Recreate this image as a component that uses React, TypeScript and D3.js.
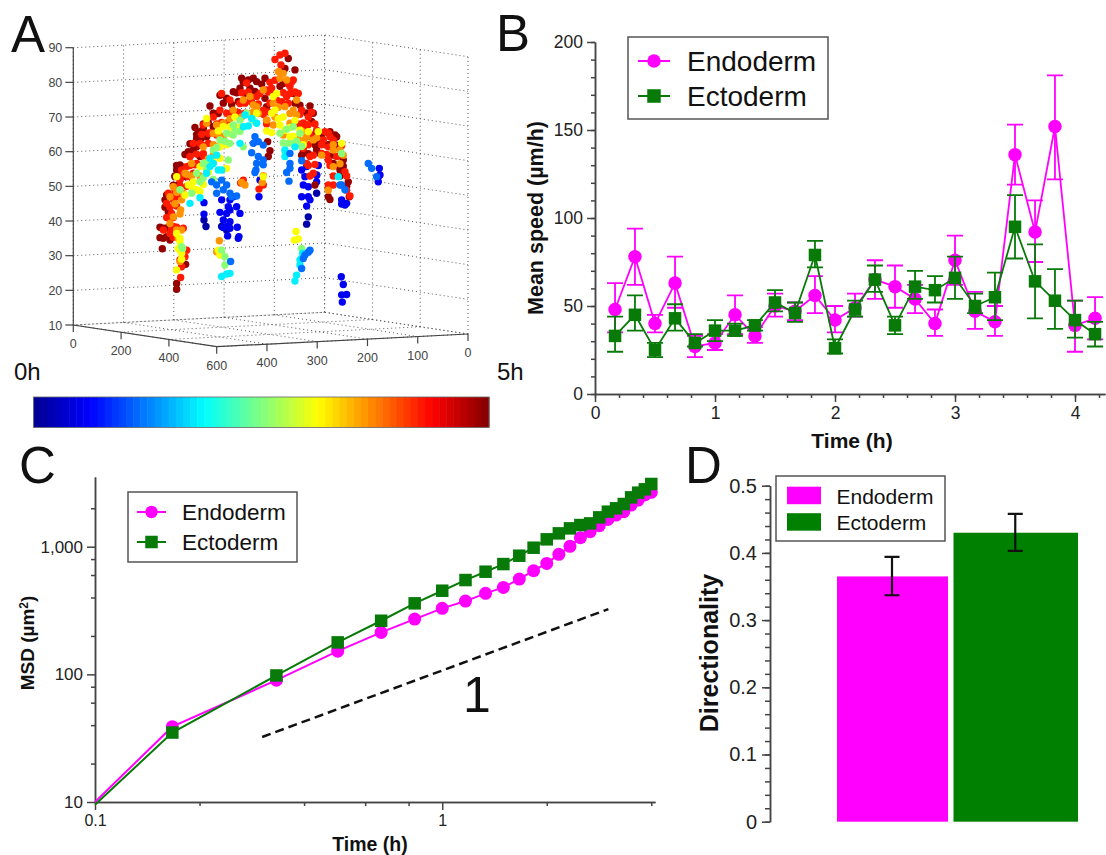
import React, { useRef, useEffect } from 'react';
import * as d3 from 'd3';

const MAGENTA = '#ff00ff';
const GREEN = '#087a08';
const SANS = '"Liberation Sans", Arial, sans-serif';

// panel B, mean speed every 10 min
const speedTimes = [0.167, 0.333, 0.5, 0.667, 0.833, 1, 1.167, 1.333, 1.5, 1.667, 1.833, 2, 2.167, 2.333, 2.5, 2.667, 2.833, 3, 3.167, 3.333, 3.5, 3.667, 3.833, 4, 4.167];
const endoSpeed = [48, 78, 40, 63, 27, 29, 45, 33, 50, 47, 56, 42, 49, 65, 61, 54, 40, 76, 47, 41, 136, 92, 152, 39, 43];
const endoLow = [35, 62, 35, 49, 21, 25, 34, 29, 44, 42, 46, 35, 44, 54, 49, 46, 33, 62, 37, 33, 119, 75, 122, 24, 31];
const endoHigh = [63, 94, 45, 78, 33, 34, 56, 38, 57, 52, 67, 50, 57, 76, 73, 62, 48, 90, 58, 50, 153, 110, 181, 53, 55];
const ectoSpeed = [33, 45, 25, 43, 29, 36, 36, 39, 52, 46, 79, 26, 48, 65, 39, 61, 59, 66, 50, 55, 95, 64, 53, 42, 34];
const ectoLow = [24, 36, 21, 36, 27, 30, 33, 36, 47, 41, 72, 23, 44, 58, 34, 54, 52, 54, 46, 42, 77, 43, 37, 32, 27];
const ectoHigh = [44, 56, 29, 51, 34, 42, 40, 42, 59, 52, 87, 31, 53, 73, 44, 70, 67, 78, 57, 69, 113, 85, 71, 53, 41];

// panel C, MSD on log axes (first entry is where the line enters the plot)
const msdTimes = [0.1, 0.167, 0.333, 0.5, 0.667, 0.833, 1, 1.167, 1.333, 1.5, 1.667, 1.833, 2, 2.167, 2.333, 2.5, 2.667, 2.833, 3, 3.167, 3.333, 3.5, 3.667, 3.833, 4];
const endoMsd = [10, 38.9, 90, 152, 213, 271, 329, 375, 431, 480, 558, 649, 740, 871, 1006, 1176, 1311, 1460, 1637, 1770, 1880, 2120, 2320, 2540, 2665];
const ectoMsd = [9.5, 35, 98, 178, 263, 360, 452, 548, 637, 731, 850, 982, 1142, 1272, 1392, 1478, 1523, 1697, 1880, 1998, 2160, 2435, 2650, 2815, 3100];
const slopeGuide = [[0.303, 32.3], [3.01, 324.6]];

// panel D
const dirNames = ['Endoderm', 'Ectoderm'];
const dirValues = [0.365, 0.43];
const dirLow = [0.337, 0.403];
const dirHigh = [0.394, 0.458];

// panel A, [horizontal position in the view, height z], grouped by time colour
const cellsNavy = [[612, 40.3], [618, 38.4], [925, 41.2], [920, 39.1], [950, 48], [680, 37.4], [665, 38.4], [950, 53.2]];
const cellsBlue = [[665, 46.1], [685, 44.1], [710, 44.1], [720, 42.2], [660, 42.5], [680, 42.2], [690, 43.2], [670, 40.3], [690, 39.8], [680, 38.4], [670, 38.1], [690, 37.9], [712, 38.2], [683, 35.7], [717, 35.5], [715, 35], [612, 45.3], [612, 42], [905, 54.7], [920, 55.7], [915, 52.8], [910, 50.4], [925, 49.9], [905, 47], [925, 47], [930, 46.1], [920, 44.3], [955, 56], [950, 53.3], [950, 51.3], [1025, 46.1], [1040, 45.1], [1025, 44.9], [1035, 44.6], [777, 47], [780, 51.8], [1024, 23.9], [1030, 21.7], [1025, 18.7], [1040, 18.8], [1027, 16.6], [1138, 55.2], [1135, 52.8], [1140, 53.3], [1135, 51.3], [690, 46.1], [700, 47]];
const cellsSky = [[765, 64.3], [760, 62.4], [775, 62.9], [790, 61.9], [755, 59.7], [775, 58.6], [770, 56.6], [768, 54.7], [790, 57.6], [790, 56.2], [765, 54], [870, 56.6], [870, 55.2], [860, 54], [867, 51.5], [870, 59.5], [905, 57.4], [635, 51.3], [650, 50.4], [665, 51.8], [680, 50.4], [650, 48], [670, 49], [690, 48], [695, 47], [710, 47.2], [1025, 50.4], [1035, 49], [1115, 55.2], [1130, 52.8], [1105, 56.6], [692, 28.3], [930, 31.6], [925, 31], [910, 29.2], [915, 30.2], [905, 26.3], [1020, 50.4]];
const cellsCyan = [[735, 70.6], [755, 69.6], [730, 67.2], [745, 67.4], [770, 68.2], [720, 62.4], [650, 59], [630, 58.1], [640, 56.6], [620, 53.8], [655, 54.7], [665, 54.7], [630, 55.7], [570, 45.1], [600, 46.7], [855, 60.5], [885, 61.4], [855, 58.6], [665, 24], [680, 24.7], [690, 24.9], [885, 22.7], [890, 24.4], [905, 29.2], [900, 27.3], [1015, 52.8], [900, 28.8], [908, 30.7]];
const cellsLime = [[740, 71.1], [760, 69.1], [720, 69.1], [700, 67.7], [680, 65.3], [700, 64.8], [720, 65.8], [660, 63.4], [690, 62.4], [640, 60.5], [610, 56.6], [590, 53.8], [600, 51.3], [620, 54.7], [540, 49], [545, 32.6], [548, 32.1], [665, 31.6], [675, 29.7], [675, 27.3], [905, 32.1], [840, 65.3], [880, 67.2], [900, 65.3], [880, 62.4], [855, 60], [865, 62.4], [730, 61.4], [685, 57.6], [1025, 59.5], [705, 66], [675, 63], [650, 61.2], [625, 57], [610, 52.5], [640, 52], [575, 48], [860, 66.5], [890, 63], [905, 61.5], [850, 62.5]];
const cellsYellow = [[830, 76.8], [820, 75.9], [815, 71.1], [850, 70], [840, 67.7], [870, 64.3], [900, 66.2], [925, 65.8], [955, 65.8], [1025, 62.4], [690, 67.2], [705, 70], [670, 67.2], [620, 69.6], [660, 61.4], [660, 58.1], [680, 55.2], [600, 55.7], [580, 51.3], [565, 50.4], [530, 52.8], [530, 36.4], [540, 35], [545, 30.7], [540, 31.6], [530, 25.9], [660, 30.2], [655, 31.6], [888, 37], [883, 34.5], [895, 34.8], [770, 71.1], [825, 72], [790, 52.8], [600, 48.5], [800, 66], [815, 65.5], [835, 69.5], [855, 66.2], [870, 67], [885, 69], [880, 64.5], [910, 62], [680, 62], [695, 65], [715, 67], [655, 66], [640, 57], [625, 54], [610, 50.5], [590, 49], [575, 50], [555, 47.5], [540, 34], [535, 32], [545, 29]];
const cellsOrange = [[835, 83.1], [850, 82.6], [840, 81.2], [860, 80.7], [790, 77.8], [770, 73], [760, 73.5], [730, 74.9], [750, 75.9], [700, 72], [670, 68.2], [650, 67.7], [620, 68.2], [640, 65.3], [610, 61.4], [655, 61.4], [620, 56.6], [575, 56.6], [555, 53.8], [520, 49.9], [510, 47], [545, 46.1], [520, 41.2], [542, 43.2], [510, 39.3], [530, 37.4], [545, 37.4], [658, 34.3], [650, 31.1], [540, 28.3], [820, 67.7], [800, 69.1], [850, 64.8], [880, 72], [890, 74.9], [870, 68.2], [920, 64.3], [940, 63.4], [965, 59], [1000, 60.5], [1020, 60.5], [985, 48.9], [735, 50.4], [725, 51.1], [787, 51.1], [790, 53.1], [1000, 55.7], [760, 71.5], [775, 71], [745, 71], [725, 70], [690, 69.5], [655, 65], [670, 64.5], [640, 62], [640, 59], [625, 58], [600, 53], [575, 53], [560, 53.5], [550, 48], [530, 48.3], [525, 45], [540, 42], [535, 35], [820, 74], [835, 72.8], [855, 73], [825, 70], [870, 71], [890, 70.5], [905, 66], [895, 63.5], [915, 63.5], [950, 64], [1020, 56.5], [1030, 59], [1000, 62]];
const cellsRed = [[825, 86.6], [840, 87.9], [855, 88.4], [843, 85], [880, 80.7], [895, 76.8], [815, 78.3], [770, 75.9], [800, 77.8], [665, 76.8], [750, 74.9], [720, 73.9], [690, 74.9], [660, 72], [680, 71.1], [700, 70.6], [640, 70], [610, 67.7], [625, 65.3], [600, 62.4], [580, 62.4], [570, 58.6], [590, 56.6], [610, 59.5], [545, 54.7], [560, 55.7], [580, 53.8], [540, 51.8], [525, 49], [500, 45.1], [515, 42.2], [505, 48], [520, 46.1], [490, 37.4], [520, 38.4], [510, 36.4], [550, 37.9], [542, 23.7], [560, 31.6], [555, 29.7], [545, 26.8], [540, 28.8], [800, 69.1], [790, 72], [830, 74.9], [860, 75.9], [870, 78.8], [905, 72], [925, 70], [915, 67.2], [950, 66.2], [970, 63.4], [985, 61.4], [1000, 63.4], [965, 59.5], [930, 58.6], [910, 61], [920, 56.6], [985, 57.6], [1010, 58.6], [1035, 54.2], [1040, 48.9], [985, 49.4], [1000, 50.4], [940, 53.8], [730, 51.8], [722, 51], [777, 49.2], [790, 50.4], [990, 64.3], [975, 65.8], [740, 79.8], [810, 80], [825, 80.6], [865, 79.6], [875, 80.1], [725, 77], [745, 77.2], [780, 76.8], [805, 77.2], [820, 76.5], [850, 77], [870, 76.8], [885, 77.2], [735, 74], [755, 74.3], [775, 73.8], [810, 74], [845, 74.4], [865, 74], [690, 71], [715, 71.3], [735, 71.1], [790, 70.8], [805, 71.5], [900, 70.8], [935, 71.4], [650, 68], [665, 68.4], [680, 68.3], [800, 68], [895, 68], [910, 68.3], [925, 67.8], [945, 68], [605, 65], [630, 65.4], [650, 64.8], [930, 65], [985, 65.4], [605, 62], [625, 62.4], [925, 62], [965, 62], [1025, 61.8], [590, 59.3], [610, 58.8], [940, 59], [980, 59.2], [570, 56], [585, 56.2], [925, 56], [945, 56.3], [990, 56], [545, 53.2], [565, 52.8], [930, 53], [1000, 53], [1040, 53], [540, 50.2], [560, 50], [985, 50.4], [515, 47.3], [535, 47], [1050, 47.2], [510, 44], [530, 44.3], [500, 41], [520, 41], [515, 38], [530, 38.2], [520, 35.3]];
const cellsDark = [[865, 86.9], [885, 83.6], [855, 84], [725, 81.2], [760, 81.2], [745, 80.7], [795, 81.2], [720, 78.3], [750, 78.3], [735, 76.8], [700, 77.3], [680, 75.4], [660, 76.3], [630, 73.2], [640, 71.1], [600, 65.8], [585, 67], [610, 66.7], [640, 67.2], [590, 63.9], [620, 64.3], [580, 60.5], [590, 61.4], [565, 60], [600, 58.6], [540, 56.2], [530, 54.7], [555, 52.8], [525, 52.8], [535, 50.4], [495, 46.1], [505, 42.7], [490, 37.9], [490, 35], [510, 34.5], [487, 32], [557, 27.5], [530, 22], [530, 20.3], [930, 73.2], [940, 71.1], [880, 76.8], [840, 78.9], [850, 79.7], [795, 75.4], [800, 73], [990, 65.8], [1010, 64.3], [960, 62.4], [950, 60.5], [1000, 56.6], [1020, 54.7], [905, 59], [945, 50.4], [990, 46.2], [1048, 47], [1045, 51.3], [805, 58.6], [810, 60.3], [803, 62.9], [935, 68.7], [1030, 57.6], [730, 80], [770, 80.2], [785, 79.5], [710, 77], [765, 77.4], [670, 74], [695, 73.6], [715, 74.5], [885, 74], [900, 73.4], [920, 71.2], [655, 71], [625, 68.4], [610, 68], [590, 65], [605, 64], [570, 62.3], [585, 61.7], [555, 59.2], [570, 58.6], [530, 56], [550, 55.5], [525, 53], [520, 50.3], [500, 47.5], [495, 44], [480, 38.2], [500, 38], [480, 35.2], [500, 35.5], [945, 65], [965, 64.7], [985, 62], [1005, 64.8], [1010, 61.8], [1000, 59], [1020, 58.8], [1010, 56], [1030, 55.8], [1020, 53], [1040, 50], [985, 47], [945, 62], [960, 59.5], [925, 59.4], [910, 60]];
// one hour value per colour group, drawn in this order
const cellGroups = [
  { hour: 0.15, cells: cellsNavy },
  { hour: 0.55, cells: cellsBlue },
  { hour: 4.9, cells: cellsDark },
  { hour: 4.25, cells: cellsRed },
  { hour: 3.65, cells: cellsOrange },
  { hour: 3.1, cells: cellsYellow },
  { hour: 2.55, cells: cellsLime },
  { hour: 1.8, cells: cellsCyan },
  { hour: 1.15, cells: cellsSky },
];

const zTicks = [10, 20, 30, 40, 50, 60, 70, 80, 90];
const aTicks = [0, 200, 400, 600];
const bTicks = [0, 100, 200, 300, 400, 500];
const bLabels = ['0', '100', '200', '300', '400', '600'];

const jet = d3.scaleLinear<string>()
  .domain([0, 0.625, 1.875, 3.125, 4.375, 5])
  .range(['#00008f', '#0000ff', '#00ffff', '#ffff00', '#ff0000', '#800000']);

function styleAxis(g, size) {
  g.attr('font-family', SANS).attr('font-size', size);
  g.selectAll('path').attr('stroke', '#444').attr('stroke-width', 1.5);
  g.selectAll('line').attr('stroke', '#444').attr('stroke-width', 1.5);
  g.selectAll('text').attr('fill', '#222');
}

function vertical(svg, text, x, y, size) {
  return svg.append('text').attr('transform', `translate(${x},${y}) rotate(-90)`)
    .attr('text-anchor', 'middle').attr('font-family', SANS).attr('font-weight', 700)
    .attr('font-size', size).attr('fill', '#111').text(text);
}

function label(svg, text, x, y, size, extra = {}) {
  const t = svg.append('text').attr('x', x).attr('y', y).attr('font-family', SANS)
    .attr('font-size', size).attr('fill', '#111').text(text);
  Object.entries(extra).forEach(([k, v]) => t.attr(k, v));
  return t;
}

function lineLegend(svg, box, rows, size) {
  svg.append('rect').attr('x', box.x).attr('y', box.y).attr('width', box.w).attr('height', box.h)
    .attr('fill', '#fff').attr('stroke', '#555').attr('stroke-width', 1.5);
  rows.forEach((r, i) => {
    svg.append('line').attr('x1', box.lx).attr('x2', box.lx + box.ll).attr('y1', r.y).attr('y2', r.y)
      .attr('stroke', i ? GREEN : MAGENTA).attr('stroke-width', 2);
    marker(svg, i, box.lx + box.ll / 2, r.y, box.m);
    label(svg, r.name, box.tx, r.y + size * 0.36, size);
  });
}

function marker(svg, kind, x, y, s) {
  if (kind === 0) svg.append('circle').attr('cx', x).attr('cy', y).attr('r', s / 2).attr('fill', MAGENTA);
  else svg.append('rect').attr('x', x - s / 2).attr('y', y - s / 2).attr('width', s).attr('height', s).attr('fill', GREEN);
}

function drawCloud(svg) {
  const aS = d3.scaleLinear().domain([0, 600]).range([0, 1]);
  const bS = d3.scaleLinear().domain([500, 0]).range([0, 1]);
  const zS = d3.scaleLinear().domain([10, 90]).range([325, 47.7]);
  const L = [73.3, 325], F = [216.7, 346.7], R = [468, 334];
  const project = (a, b, z) => [
    L[0] + aS(a) * (F[0] - L[0]) + bS(b) * (R[0] - F[0]),
    L[1] + aS(a) * (F[1] - L[1]) + bS(b) * (R[1] - F[1]) + zS(z) - zS(10),
  ];
  const path = d3.line();
  const dotted = (pts) => svg.append('path').attr('d', path(pts)).attr('fill', 'none')
    .attr('stroke', '#555').attr('stroke-width', 1).attr('stroke-dasharray', '1 3');
  const solid = (pts) => svg.append('path').attr('d', path(pts)).attr('fill', 'none')
    .attr('stroke', '#444').attr('stroke-width', 1.2);

  // walls and floor grid
  zTicks.forEach(z => {
    dotted([project(0, 500, z), project(0, 0, z), project(600, 0, z)]);
  });
  bTicks.forEach(b => {
    dotted([project(0, b, 10), project(0, b, 90)]);
    dotted([project(0, b, 10), project(600, b, 10)]);
  });
  aTicks.forEach(a => {
    dotted([project(a, 0, 10), project(a, 0, 90)]);
    dotted([project(a, 0, 10), project(a, 500, 10)]);
  });

  // solid box edges and ticks
  solid([project(0, 500, 90), project(0, 500, 10), project(600, 500, 10), project(600, 0, 10)]);
  zTicks.forEach(z => {
    const [x, y] = project(0, 500, z);
    solid([[x - 8, y], [x, y]]);
    label(svg, String(z), x - 11, y + 4.5, 12.5, { 'text-anchor': 'end', fill: '#444' });
  });
  aTicks.slice(0, 3).forEach(a => {
    const [x, y] = project(a, 500, 10);
    solid([[x, y], [x, y + 7]]);
    label(svg, String(a), x, y + 23, 12.5, { 'text-anchor': 'middle', fill: '#444' });
  });
  bTicks.forEach((b, i) => {
    const [x, y] = project(600, b, 10);
    solid([[x, y], [x, y + 7]]);
    label(svg, bLabels[i], x, y + 23, 12.5, { 'text-anchor': 'middle', fill: '#444' });
  });

  const hS = d3.scaleLinear().domain([220, 1405]).range([73.3, 468.3]);
  cellGroups.forEach(group => {
    svg.append('g').selectAll('circle').data(group.cells).enter().append('circle')
      .attr('cx', d => hS(d[0])).attr('cy', d => zS(d[1])).attr('r', 3.7)
      .attr('fill', jet(group.hour));
  });

  // time colour bar
  const barX = d3.scaleBand().domain(d3.range(64).map(String)).range([33.5, 489]);
  svg.append('g').selectAll('rect').data(d3.range(64)).enter().append('rect')
    .attr('x', d => barX(String(d))).attr('y', 397).attr('width', barX.bandwidth() + 0.5).attr('height', 30.5)
    .attr('fill', d => jet((d + 0.5) / 64 * 5));
  svg.append('rect').attr('x', 33.5).attr('y', 397).attr('width', 455.5).attr('height', 30.5)
    .attr('fill', 'none').attr('stroke', '#666').attr('stroke-width', 0.8);
  label(svg, '0h', 14, 380, 24);
  label(svg, '5h', 497, 380, 24);
}

function drawSpeed(svg) {
  const x = d3.scaleLinear().domain([0, 4.25]).range([595, 1105]);
  const y = d3.scaleLinear().domain([0, 200]).range([394, 42]);

  const minorX = d3.range(0, 4.21, 0.2);
  const minorY = d3.range(0, 201, 10);
  styleAxis(svg.append('g').attr('transform', 'translate(0,394)').call(d3.axisBottom(x).tickValues(minorX).tickFormat(() => '').tickSize(4).tickSizeOuter(0)), 17);
  styleAxis(svg.append('g').attr('transform', 'translate(595,0)').call(d3.axisLeft(y).tickValues(minorY).tickFormat(() => '').tickSize(4).tickSizeOuter(0)), 17);
  styleAxis(svg.append('g').attr('transform', 'translate(0,394)').call(d3.axisBottom(x).tickValues([0, 1, 2, 3, 4]).tickFormat(d3.format('d')).tickSize(8).tickSizeOuter(0).tickPadding(5)), 17.5);
  styleAxis(svg.append('g').attr('transform', 'translate(595,0)').call(d3.axisLeft(y).tickValues([0, 50, 100, 150, 200]).tickFormat(d3.format('d')).tickSize(8).tickSizeOuter(0).tickPadding(4)), 17.5);

  const series = [
    { kind: 0, color: MAGENTA, v: endoSpeed, lo: endoLow, hi: endoHigh },
    { kind: 1, color: GREEN, v: ectoSpeed, lo: ectoLow, hi: ectoHigh },
  ];
  series.forEach(s => {
    const g = svg.append('g');
    speedTimes.forEach((t, i) => {
      const px = x(t);
      g.append('path').attr('d', `M${px},${y(s.lo[i])}V${y(s.hi[i])}M${px - 8},${y(s.lo[i])}H${px + 8}M${px - 8},${y(s.hi[i])}H${px + 8}`)
        .attr('fill', 'none').attr('stroke', s.color).attr('stroke-width', 1.8);
    });
    g.append('path').attr('d', d3.line().x((_, i) => x(speedTimes[i])).y(d => y(d))(s.v))
      .attr('fill', 'none').attr('stroke', s.color).attr('stroke-width', 1.8);
    speedTimes.forEach((t, i) => marker(g, s.kind, x(t), y(s.v[i]), s.kind ? 12.5 : 13.5));
  });

  label(svg, 'Time (h)', 852, 448, 21, { 'text-anchor': 'middle', 'font-weight': 700 });
  vertical(svg, 'Mean speed (µm/h)', 543, 218, 21.5);
  lineLegend(svg, { x: 628, y: 37, w: 200, h: 82, lx: 638, ll: 32, m: 13.5, tx: 687 },
    [{ name: 'Endoderm', y: 61 }, { name: 'Ectoderm', y: 96 }], 28);
}

function drawMsd(svg) {
  const x = d3.scaleLog().domain([0.1, 4.1]).range([95, 655]);
  const y = d3.scaleLog().domain([10, 3516]).range([802, 477]);

  const minorX = [0.2, 0.4, 0.6, 0.8, 2, 4];
  const minorY = [20, 40, 60, 80, 200, 400, 600, 800, 2000];
  styleAxis(svg.append('g').attr('transform', 'translate(0,802)').call(d3.axisBottom(x).tickValues(minorX).tickFormat(() => '').tickSize(4).tickSizeOuter(0)), 16);
  styleAxis(svg.append('g').attr('transform', 'translate(95,0)').call(d3.axisLeft(y).tickValues(minorY).tickFormat(() => '').tickSize(4).tickSizeOuter(0)), 16);
  styleAxis(svg.append('g').attr('transform', 'translate(0,802)').call(d3.axisBottom(x).tickValues([0.1, 1]).tickFormat(d3.format('')).tickSize(8).tickSizeOuter(0).tickPadding(5)), 16);
  styleAxis(svg.append('g').attr('transform', 'translate(95,0)').call(d3.axisLeft(y).tickValues([10, 100, 1000]).tickFormat(d3.format(',')).tickSize(8).tickSizeOuter(0).tickPadding(4)), 17);

  const lineGen = d3.line().x((_, i) => x(msdTimes[i])).y(d => y(d));
  [{ kind: 0, color: MAGENTA, v: endoMsd }, { kind: 1, color: GREEN, v: ectoMsd }].forEach(s => {
    const g = svg.append('g');
    g.append('path').attr('d', lineGen(s.v)).attr('fill', 'none').attr('stroke', s.color).attr('stroke-width', 2);
    msdTimes.forEach((t, i) => { if (i > 0) marker(g, s.kind, x(t), y(s.v[i]), s.kind ? 12.5 : 13); });
  });

  svg.append('path').attr('d', d3.line().x(d => x(d[0])).y(d => y(d[1]))(slopeGuide))
    .attr('fill', 'none').attr('stroke', '#111').attr('stroke-width', 2.5).attr('stroke-dasharray', '9 5');
  label(svg, '1', 477, 712, 50, { 'text-anchor': 'middle' });

  label(svg, 'Time (h)', 370, 851, 19.5, { 'text-anchor': 'middle', 'font-weight': 700 });
  const msdTitle = vertical(svg, 'MSD (µm', 34, 643, 19);
  msdTitle.append('tspan').attr('font-size', 12).attr('dy', -6).text('2');
  msdTitle.append('tspan').attr('dy', 6).text(')');
  lineLegend(svg, { x: 128, y: 492, w: 169, h: 70, lx: 137, ll: 29, m: 12.5, tx: 182 },
    [{ name: 'Endoderm', y: 512 }, { name: 'Ectoderm', y: 542 }], 22.5);
}

function drawDirectionality(svg) {
  const y = d3.scaleLinear().domain([0, 0.5]).range([821.7, 485.7]);
  const left = d3.scaleOrdinal<string, number>().domain(dirNames).range([837, 953.5]);
  const widths = d3.scaleOrdinal<string, number>().domain(dirNames).range([111, 124.5]);
  const colors = d3.scaleOrdinal<string, string>().domain(dirNames).range([MAGENTA, '#008000']);

  styleAxis(svg.append('g').attr('transform', 'translate(770,0)').call(d3.axisLeft(y).tickValues(d3.range(0, 0.501, 0.02)).tickFormat(() => '').tickSize(5).tickSizeOuter(0)), 20);
  styleAxis(svg.append('g').attr('transform', 'translate(770,0)').call(d3.axisLeft(y).tickValues([0, 0.1, 0.2, 0.3, 0.4, 0.5]).tickFormat(d => (d === 0 ? '0' : d3.format('.1f')(d))).tickSize(8).tickSizeOuter(0).tickPadding(5)), 20);

  dirNames.forEach((name, i) => {
    svg.append('rect').attr('x', left(name)).attr('y', y(dirValues[i])).attr('width', widths(name))
      .attr('height', y(0) - y(dirValues[i])).attr('fill', colors(name));
    const cx = left(name) + widths(name) / 2 - 0.5;
    svg.append('path').attr('d', `M${cx},${y(dirLow[i])}V${y(dirHigh[i])}M${cx - 7.5},${y(dirLow[i])}H${cx + 7.5}M${cx - 7.5},${y(dirHigh[i])}H${cx + 7.5}`)
      .attr('fill', 'none').attr('stroke', '#111').attr('stroke-width', 2.2);
  });

  svg.append('rect').attr('x', 776).attr('y', 476).attr('width', 169).attr('height', 65)
    .attr('fill', '#fff').attr('stroke', '#555').attr('stroke-width', 1.5);
  dirNames.forEach((name, i) => {
    const rowY = 486.7 + i * 26.5;
    svg.append('rect').attr('x', 787).attr('y', rowY).attr('width', 34).attr('height', 17.5).attr('fill', colors(name));
    label(svg, name, 836.5, rowY + 17, 21);
  });
  vertical(svg, 'Directionality', 718, 653, 25);
}

export default function App() {
  const ref = useRef<SVGSVGElement>(null);

  useEffect(() => {
    const svg = d3.select(ref.current);
    svg.selectAll('*').remove();

    drawCloud(svg);
    drawSpeed(svg);
    drawMsd(svg);
    drawDirectionality(svg);

    label(svg, 'A', 11, 52, 51);
    label(svg, 'B', 496, 51, 51);
    label(svg, 'C', 19, 483, 51);
    label(svg, 'D', 685, 483, 51);
  }, []);

  return (
    <svg ref={ref} width={1106} height={855} style={{ position: 'absolute', left: 0, top: 0, background: '#fff' }} />
  );
}
